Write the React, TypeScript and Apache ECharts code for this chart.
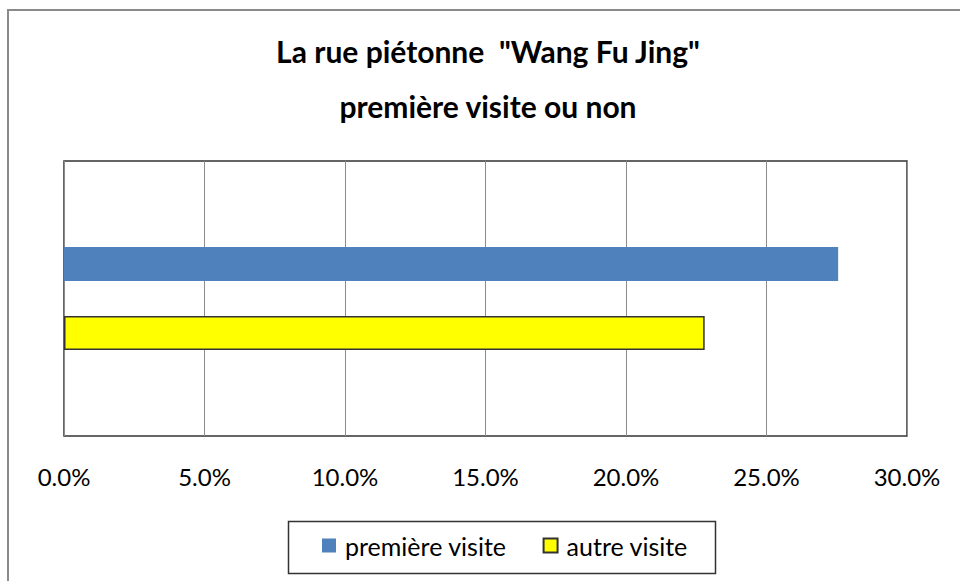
import React, { useEffect, useRef } from "react";
import * as echarts from "echarts";

const titleLines = ['La rue piétonne  "Wang Fu Jing"', "première visite ou non"];
const categories = [""];
const seriesNames = ["première visite", "autre visite"];
const premiereVisite = [0.2755];
const autreVisite = [0.228];
const xTicks = { min: 0, max: 0.3, interval: 0.05 };

const FONT = "Lato, 'Open Sans', sans-serif";

export default function App() {
  const ref = useRef<HTMLDivElement>(null);
  useEffect(() => {
    if (!ref.current) return;
    const chart = echarts.init(ref.current, null, { renderer: "svg" });
    chart.setOption({
      animation: false,
      backgroundColor: "#ffffff",
      textStyle: { fontFamily: FONT },
      title: {
        text: titleLines.join("\n"),
        left: 483,
        textAlign: "center",
        top: 18,
        textStyle: {
          fontFamily: FONT,
          fontSize: 30,
          fontWeight: "bold",
          color: "#000",
          lineHeight: 55,
        },
      },
      grid: {
        left: 64,
        top: 161,
        right: 53,
        bottom: 145,
        show: true,
        borderColor: "#333",
        borderWidth: 1.5,
        backgroundColor: "transparent",
      },
      xAxis: {
        type: "value",
        min: xTicks.min,
        max: xTicks.max,
        interval: xTicks.interval,
        axisLine: { show: false },
        axisTick: { show: false },
        splitLine: { show: true, lineStyle: { color: "#8c8c8c", width: 1 } },
        axisLabel: {
          margin: 28,
          fontSize: 24,
          fontFamily: FONT,
          color: "#000",
          formatter: (v: number) => (v * 100).toFixed(1) + "%",
        },
      },
      yAxis: {
        type: "category",
        data: categories,
        inverse: true,
        axisLine: { show: false },
        axisTick: { show: false },
        axisLabel: { show: false },
        splitLine: { show: false },
      },
      legend: {
        left: 317,
        top: 528,
        itemWidth: 14,
        itemHeight: 14,
        itemGap: 36,
        icon: "rect",
        textStyle: {
          fontFamily: FONT,
          fontSize: 25,
          color: "#000",
          padding: [0, 0, 0, 4],
        },
        data: seriesNames,
      },
      graphic: [
        {
          type: "rect",
          shape: { x: 8, y: 10, width: 1000, height: 1000 },
          style: { fill: "none", stroke: "#8a8a8a", lineWidth: 2 },
          silent: true,
        },
        {
          type: "rect",
          shape: { x: 288.5, y: 521.5, width: 427, height: 52 },
          style: { fill: "none", stroke: "#333", lineWidth: 1.5 },
          silent: true,
        },
      ],
      series: [
        {
          name: seriesNames[0],
          type: "bar",
          data: premiereVisite,
          barWidth: 34,
          barGap: "103%",
          itemStyle: { color: "#4F81BD" },
        },
        {
          name: seriesNames[1],
          type: "bar",
          data: autreVisite,
          barWidth: 34,
          barGap: "103%",
          itemStyle: { color: "#FFFF00", borderColor: "#333", borderWidth: 1.5 },
        },
      ],
    });
    return () => chart.dispose();
  }, []);
  return (
    <div
      ref={ref}
      style={{ position: "fixed", left: 0, top: 0, width: 960, height: 581 }}
    />
  );
}
